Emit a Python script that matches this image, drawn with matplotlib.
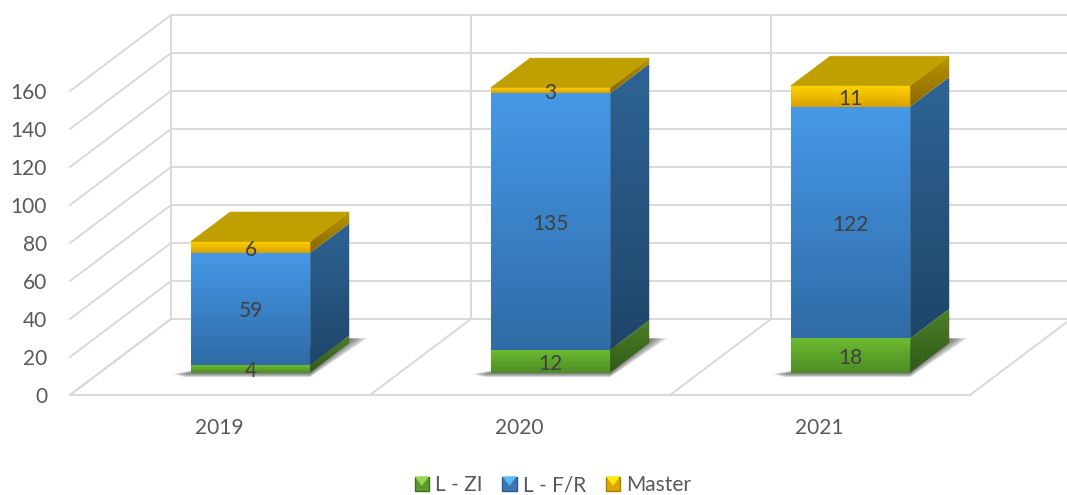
import matplotlib
matplotlib.use("Agg")
import matplotlib.pyplot as plt
import numpy as np
from matplotlib.colors import LinearSegmentedColormap
from matplotlib.legend_handler import HandlerBase
from matplotlib.patches import Patch, Polygon, Rectangle

plt.rcParams["font.family"] = ["Lato", "DejaVu Sans"]

years = ["2019", "2020", "2021"]
l_zi = [4, 12, 18]
l_fr = [59, 135, 122]
master = [6, 3, 11]
y_ticks = [0, 20, 40, 60, 80, 100, 120, 140, 160]

# fake 3d: how far one full step back into the chart moves a point
depth_x = 101 / 300
depth_y = 40
bar_width = 0.397
bar_t0 = 0.303
bar_t1 = 0.69
base = 11.8

grid_col = "#d9d9d9"
grid_lw = 1.4
# labels sit a little low in their box
text_drop = 1.3

fig = plt.figure(figsize=(10.67, 4.95), dpi=100)
ax = fig.add_axes([0, 0, 1, 1])
ax.set_xlim(-70 / 300, 997 / 300)
ax.set_ylim(-100 / 1.9, 395 / 1.9)
ax.autoscale(False)
ax.axis("off")


def cmap(*cols):
    return LinearSegmentedColormap.from_list("g", cols)


def face(points, colors, z=3):
    # polygon filled with a vertical gradient, first colour on top
    points = np.array(points)
    poly = Polygon(points, closed=True, fc="none", ec="none", zorder=z)
    ax.add_patch(poly)
    grad = np.linspace(0, 1, 256).reshape(-1, 1)
    extent = (points[:, 0].min(), points[:, 0].max(), points[:, 1].min(), points[:, 1].max())
    im = ax.imshow(grad, cmap=cmap(*colors), extent=extent, aspect="auto", zorder=z,
                   interpolation="bilinear")
    im.set_clip_path(poly)


# walls and floor
n_cat = len(years)
top = y_ticks[-1]
wall_x = depth_x
for v in y_ticks:
    ax.plot([0, wall_x], [v, v + depth_y], color=grid_col, lw=grid_lw, zorder=1)
    ax.plot([wall_x, n_cat + wall_x], [v + depth_y, v + depth_y], color=grid_col, lw=grid_lw, zorder=1)
ax.plot([0, n_cat], [0, 0], color=grid_col, lw=grid_lw, zorder=1)
for c in range(n_cat + 1):
    ax.plot([c, c + wall_x], [0, depth_y], color=grid_col, lw=grid_lw, zorder=1)
    if c < n_cat:
        ax.plot([c + wall_x] * 2, [depth_y, top + depth_y], color=grid_col, lw=grid_lw, zorder=1)

for v in y_ticks:
    ax.text(-23 / 300, v - text_drop, str(v), ha="right", va="center", fontsize=15, color="#595959", zorder=6)

green = {"front": ["#6cbb31", "#4e8c26"], "side": ["#4f8027", "#2f5918"]}
blue = {"front": ["#4699e8", "#2f6ba6"], "side": ["#2e6496", "#1e4568"]}
gold = {"front": ["#ffd200", "#d9a000"], "side": ["#b89600", "#8a6700"]}

for i, year in enumerate(years):
    x0 = i + 0.5 - bar_width / 2 + bar_t0 * depth_x
    x1 = x0 + bar_width
    step_x = (bar_t1 - bar_t0) * depth_x
    step_y = (bar_t1 - bar_t0) * depth_y

    # soft shadow on the floor
    for f in np.linspace(1, 0.15, 8):
        shadow = Polygon([(x0 - 0.06 * f, base - 0.8), (x0 - 0.02 * f, base - 2.4 * f), (x1, base - 2.4 * f),
                          (x1 + step_x + 0.06 * f, base + step_y + 2.5), (x1 + step_x, base + step_y + 2.5)],
                         fc="#404040", ec="none", alpha=0.13, zorder=2)
        ax.add_patch(shadow)

    bottom = base
    for val, style in zip([l_zi[i], l_fr[i], master[i]], [green, blue, gold]):
        t = bottom + val
        face([(x0, bottom), (x1, bottom), (x1, t), (x0, t)], style["front"])
        face([(x1, bottom), (x1 + step_x, bottom + step_y), (x1 + step_x, t + step_y), (x1, t)],
             style["side"])
        ax.text((x0 + x1) / 2, bottom + val / 2 - text_drop, str(val), ha="center", va="center", fontsize=15,
                color="#404040", zorder=7)
        bottom = t
    ax.add_patch(Polygon([(x0, bottom), (x1, bottom), (x1 + step_x, bottom + step_y), (x0 + step_x, bottom + step_y)],
                         fc="#c09f00", ec="#c09f00", lw=0.5, zorder=4))

    ax.text(i + 0.497, -16.8 - text_drop / 2, year, ha="center", va="center", fontsize=15, color="#595959", zorder=6)


class BevelHandler(HandlerBase):
    # legend key: dark square with a bright wedge on top
    def __init__(self, dark, bright, mid):
        super().__init__()
        self.dark, self.bright, self.mid = dark, bright, mid

    def create_artists(self, legend, orig_handle, xdescent, ydescent, width, height, fontsize, trans):
        x, y = -xdescent, -ydescent
        sq = Rectangle((x, y), width, height, fc=self.mid, ec=self.dark, lw=1.0, transform=trans)
        wedge = Polygon([(x, y + height), (x + width, y + height), (x + width / 2, y + height * 0.35)],
                        fc=self.bright, ec="none", transform=trans)
        return [sq, wedge]


handles = [Patch(label="L - ZI"), Patch(label="L - F/R"), Patch(label="Master")]
keys = [("#3f6f20", "#93d84c", "#5c9a2e"), ("#2a5c8c", "#5bb8f5", "#3a78b4"), ("#a88000", "#ffe800", "#d8a800")]
leg = fig.legend(handles=handles, handler_map={h: BevelHandler(*k) for h, k in zip(handles, keys)},
                 loc="center", bbox_to_anchor=(553 / 1067, 1 - 485 / 495), ncol=3, frameon=False,
                 fontsize=15, labelcolor="#595959", handlelength=0.68, handleheight=0.68,
                 handletextpad=0.3, columnspacing=0.95, borderpad=0)

fig.savefig("out.png", dpi=100)
